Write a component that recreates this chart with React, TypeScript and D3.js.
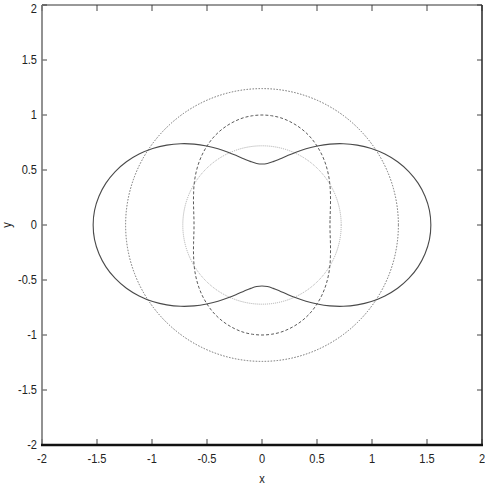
import React from "react";
import * as d3 from "d3";

// polar sample angles (degrees, counter-clockwise from +x)
const anglesDeg = [
  0, 5, 10, 15, 20, 25, 30, 35, 40, 45, 50, 55, 60, 65, 70, 75, 80, 85,
  90, 95, 100, 105, 110, 115, 120, 125, 130, 135, 140, 145, 150, 155, 160, 165, 170, 175,
  180, 185, 190, 195, 200, 205, 210, 215, 220, 225, 230, 235, 240, 245, 250, 255, 260, 265,
  270, 275, 280, 285, 290, 295, 300, 305, 310, 315, 320, 325, 330, 335, 340, 345, 350, 355,
];

// radius of the solid peanut curve at each angle
const peanutR = [
  1.535, 1.528, 1.505, 1.469, 1.42, 1.36, 1.29, 1.213, 1.13, 1.045, 0.96, 0.877, 0.8, 0.73, 0.67, 0.621, 0.585, 0.562,
  0.555, 0.562, 0.585, 0.621, 0.67, 0.73, 0.8, 0.877, 0.96, 1.045, 1.13, 1.213, 1.29, 1.36, 1.42, 1.469, 1.505, 1.528,
  1.535, 1.528, 1.505, 1.469, 1.42, 1.36, 1.29, 1.213, 1.13, 1.045, 0.96, 0.877, 0.8, 0.73, 0.67, 0.621, 0.585, 0.562,
  0.555, 0.562, 0.585, 0.621, 0.67, 0.73, 0.8, 0.877, 0.96, 1.045, 1.13, 1.213, 1.29, 1.36, 1.42, 1.469, 1.505, 1.528,
];

// radius of the dashed oval at each angle
const ovalR = [
  0.618, 0.621, 0.63, 0.644, 0.663, 0.686, 0.714, 0.744, 0.776, 0.809, 0.842, 0.874, 0.905, 0.932, 0.955, 0.974, 0.989, 0.997,
  1.0, 0.997, 0.989, 0.974, 0.955, 0.932, 0.905, 0.874, 0.842, 0.809, 0.776, 0.744, 0.714, 0.686, 0.663, 0.644, 0.63, 0.621,
  0.618, 0.621, 0.63, 0.644, 0.663, 0.686, 0.714, 0.744, 0.776, 0.809, 0.842, 0.874, 0.905, 0.932, 0.955, 0.974, 0.989, 0.997,
  1.0, 0.997, 0.989, 0.974, 0.955, 0.932, 0.905, 0.874, 0.842, 0.809, 0.776, 0.744, 0.714, 0.686, 0.663, 0.644, 0.63, 0.621,
];

// circles centred at origin
const outerCircleR = 1.24;
const innerCircleR = 0.72;

const xTicks = [-2, -1.5, -1, -0.5, 0, 0.5, 1, 1.5, 2];
const yTicks = [-2, -1.5, -1, -0.5, 0, 0.5, 1, 1.5, 2];
const xTickLabels = ["-2", "-1.5", "-1", "-0.5", "0", "0.5", "1", "1.5", "2"];
const yTickLabels = ["-2", "-1.5", "-1", "-0.5", "0", "0.5", "1", "1.5", "2"];

export default function App() {
  const W = 485;
  const H = 485;
  const left = 42, right = 482, top = 5, bottom = 445;
  const x = d3.scaleLinear().domain([-2, 2]).range([left, right]);
  const y = d3.scaleLinear().domain([-2, 2]).range([bottom, top]);
  const rs = (v: number) => x(v) - x(0);

  const radial = (radii: number[]) =>
    d3
      .lineRadial<number>()
      .angle((_d, i) => ((90 - anglesDeg[i]) * Math.PI) / 180)
      .radius((d) => rs(d))
      .curve(d3.curveCatmullRomClosed)(radii) || "";

  const font = "'Liberation Sans', Arial, sans-serif";
  const sx = 0.82;

  return (
    <svg
      width={W}
      height={H}
      style={{ position: "absolute", left: 0, top: 0, background: "#fff" }}
    >
      {/* curves */}
      <g transform={`translate(${x(0)},${y(0)})`} fill="none">
        <circle r={rs(outerCircleR)} stroke="#707070" strokeWidth={1} strokeDasharray="1.5,1.5" />
        <circle r={rs(innerCircleR)} stroke="#aaaaaa" strokeWidth={1} strokeDasharray="1,1" />
        <path d={radial(ovalR)} stroke="#5a5a5a" strokeWidth={1} strokeDasharray="3,2" />
        <path d={radial(peanutR)} stroke="#4a4a4a" strokeWidth={1.1} />
      </g>

      {/* ticks */}
      <g stroke="#444" strokeWidth={1}>
        {xTicks.map((t) => (
          <g key={"xt" + t}>
            <line x1={x(t)} x2={x(t)} y1={bottom} y2={bottom - 6} />
            <line x1={x(t)} x2={x(t)} y1={top} y2={top + 6} />
          </g>
        ))}
        {yTicks.map((t) => (
          <g key={"yt" + t}>
            <line x1={left} x2={left + 5} y1={y(t)} y2={y(t)} />
            <line x1={right} x2={right - 5} y1={y(t)} y2={y(t)} />
          </g>
        ))}
      </g>

      {/* frame */}
      <line x1={left} x2={right} y1={top} y2={top} stroke="#333" strokeWidth={1} />
      <line x1={right} x2={right} y1={top} y2={bottom} stroke="#333" strokeWidth={1.6} />
      <line x1={left} x2={left} y1={top} y2={bottom} stroke="#777" strokeWidth={1.6} />
      <line x1={left - 1} x2={right + 1} y1={bottom} y2={bottom} stroke="#111" strokeWidth={2.5} />

      {/* tick labels */}
      <g fontFamily={font} fontSize={13.5} fill="#222">
        {xTicks.map((t, i) => (
          <text
            key={"xl" + t}
            transform={`translate(${x(t)},463) scale(${sx},1)`}
            textAnchor="middle"
          >
            {xTickLabels[i]}
          </text>
        ))}
        {yTicks.map((t, i) => (
          <text
            key={"yl" + t}
            transform={`translate(37,${Math.max(y(t), 9)}) scale(${sx},1)`}
            textAnchor="end"
            dominantBaseline="central"
          >
            {yTickLabels[i]}
          </text>
        ))}
        <text transform={`translate(${x(0)},483) scale(${sx},1)`} textAnchor="middle">x</text>
        <text transform={`translate(11,${y(0)}) rotate(-90) scale(${sx},1)`} textAnchor="middle">y</text>
      </g>
    </svg>
  );
}
